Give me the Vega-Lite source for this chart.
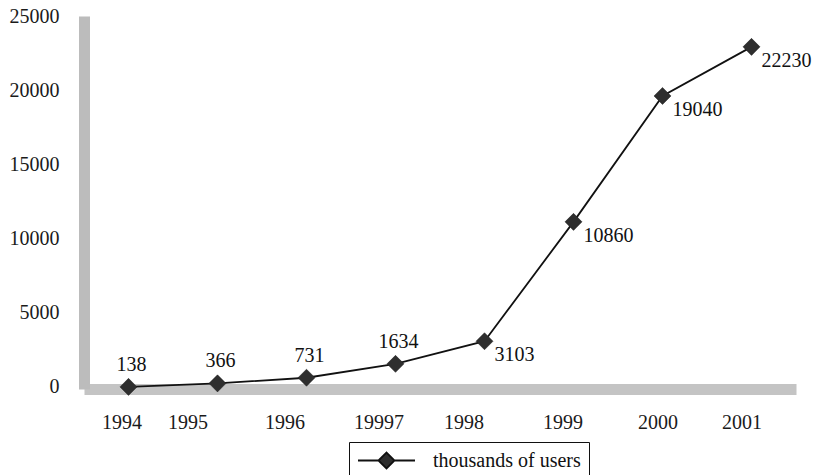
{
  "$schema": "https://vega.github.io/schema/vega-lite/v6.json",
  "width": 712,
  "height": 373,
  "autosize": "none",
  "padding": {"left": 84, "top": 16, "right": 21, "bottom": 86},
  "background": "white",
  "config": {"view": {"stroke": null}},
  "data": {
    "values": [
      {"year": "1994", "users": 138},
      {"year": "1995", "users": 366},
      {"year": "1996", "users": 731},
      {"year": "19997", "users": 1634},
      {"year": "1998", "users": 3103},
      {"year": "1999", "users": 10860},
      {"year": "2000", "users": 19040},
      {"year": "2001", "users": 22230}
    ]
  },
  "encoding": {
    "x": {
      "field": "year",
      "type": "ordinal",
      "sort": null,
      "scale": {"type": "point", "padding": 0.5},
      "axis": {
        "title": null,
        "labelAngle": 0,
        "labelFont": "Liberation Serif",
        "labelFontSize": 20,
        "labelColor": "#1a1a1a",
        "ticks": false,
        "labelPadding": 23,
        "domainColor": "#c4c4c4",
        "domainWidth": 11,
        "labelOffset": {
          "condition": [
            {"test": "datum.value === '1994'", "value": -7},
            {"test": "datum.value === '1995'", "value": -30},
            {"test": "datum.value === '1996'", "value": -22},
            {"test": "datum.value === '19997'", "value": -17},
            {"test": "datum.value === '1998'", "value": -21},
            {"test": "datum.value === '1999'", "value": -11},
            {"test": "datum.value === '2000'", "value": -5}
          ],
          "value": -10
        }
      }
    }
  },
  "layer": [
    {
      "mark": {"type": "point", "opacity": 0},
      "encoding": {
        "y": {
          "field": "users",
          "type": "quantitative",
          "scale": {"domain": [-135, 25000], "nice": false, "zero": false},
          "axis": {
            "title": null,
            "values": [0, 5000, 10000, 15000, 20000, 25000],
            "format": "d",
            "grid": false,
            "ticks": false,
            "labelPadding": 25,
            "labelFlush": false,
            "labelOverlap": false,
            "labelFont": "Liberation Serif",
            "labelFontSize": 20,
            "labelColor": "#1a1a1a",
            "domainColor": "#bcbcbc",
            "domainWidth": 11
          }
        }
      }
    },
    {
      "encoding": {
        "y": {
          "field": "users",
          "type": "quantitative",
          "scale": {"domain": [0, 24236], "nice": false},
          "axis": null
        }
      },
      "layer": [
        {"mark": {"type": "line", "color": "#111111", "strokeWidth": 1.8}},
        {
          "mark": {"type": "point", "shape": "diamond", "filled": true, "size": 290, "opacity": 1, "stroke": "#1e1e1e", "strokeWidth": 0.5},
          "encoding": {
            "fill": {
              "datum": "thousands of users",
              "scale": {"range": ["#2e2e2e"]},
              "legend": {
                "title": null,
                "orient": "none",
                "legendX": 265,
                "legendY": 426,
                "symbolType": "M-1,0L1.16,0L2,-0.84L2.84,0L2,0.84L1.16,0ZM2.84,0L5,0",
                "symbolSize": 361,
                "symbolStrokeColor": "#111111",
                "symbolStrokeWidth": 1.8,
                "symbolOpacity": 1,
                "labelOffset": 55,
                "labelFont": "Liberation Serif",
                "labelFontSize": 20,
                "labelColor": "#111111",
                "strokeColor": "#111111",
                "padding": 8
              }
            }
          }
        },
        {
          "transform": [{"filter": "datum.users < 2000"}],
          "mark": {"type": "text", "dx": 3, "dy": -22, "font": "Liberation Serif", "fontSize": 20, "color": "#111111"},
          "encoding": {"text": {"field": "users", "type": "quantitative", "format": "d"}}
        },
        {
          "transform": [{"filter": "datum.users >= 2000"}],
          "mark": {"type": "text", "align": "left", "dx": 10, "dy": 14, "font": "Liberation Serif", "fontSize": 20, "color": "#111111"},
          "encoding": {"text": {"field": "users", "type": "quantitative", "format": "d"}}
        }
      ]
    }
  ],
  "resolve": {"scale": {"y": "independent"}}
}
